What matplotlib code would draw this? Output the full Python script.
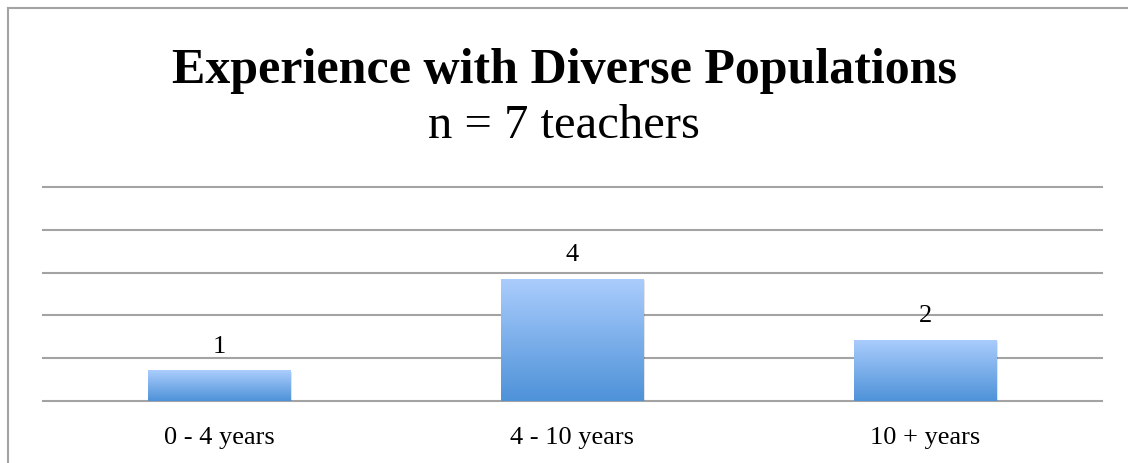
"""Experience with Diverse Populations bar chart"""

import numpy as np
import matplotlib.pyplot as plt
from matplotlib.lines import Line2D
from matplotlib.patches import Rectangle

categories = ["0 - 4 years", "4 - 10 years", "10 + years"]
teachers = [1, 4, 2]
y_max = 7
grid_step = 7 / 5

COLOR_TOP = "#abcdfd"
COLOR_BOTTOM = "#4e92d8"
COLOR_GRID = "#a3a3a3"

plt.rcParams["font.family"] = ["Liberation Serif", "DejaVu Serif"]

fig = plt.figure(figsize=(11.28, 4.63), dpi=100)
W, H = 1128, 463

# axes placed in pixel terms of the reference
ax = fig.add_axes([43 / W, 62 / H, (1102 - 43) / W, (401 - 187) / H])
ax.set_xlim(-0.5, len(categories) - 0.5)
ax.set_ylim(0, y_max)

for spine in ax.spines.values():
    spine.set_visible(False)
ax.tick_params(left=False, bottom=False, labelleft=False)
ax.set_yticks(np.arange(0, y_max + 0.01, grid_step))
ax.grid(axis="y", color=COLOR_GRID, linewidth=1.5)
for line in ax.get_ygridlines():
    line.set_clip_on(False)
ax.set_axisbelow(True)

ax.set_xticks(range(len(categories)))
ax.set_xticklabels(categories, fontsize=19)
ax.tick_params(axis="x", pad=15)

# vertical gradient used to fill each bar
gradient = np.linspace(0, 1, 256).reshape(-1, 1)
cmap = plt.matplotlib.colors.LinearSegmentedColormap.from_list(
    "bar", [COLOR_BOTTOM, COLOR_TOP]
)

bar_width = 0.405
for i, value in enumerate(teachers):
    x0 = i - bar_width / 2
    # soft shadow
    for k, alpha in enumerate([0.10, 0.07, 0.04]):
        d = 0.004 * (k + 1)
        shadow = Rectangle(
            (x0 + d * 0.3, -0.02 * (k + 1)),
            bar_width,
            value,
            color="black",
            alpha=alpha,
            linewidth=0,
            zorder=2,
        )
        ax.add_patch(shadow)
    rect = Rectangle((x0, 0), bar_width, value, facecolor="none",
                     edgecolor="none", zorder=3)
    ax.add_patch(rect)
    im = ax.imshow(
        gradient,
        extent=[x0, x0 + bar_width, 0, value],
        origin="lower",
        cmap=cmap,
        aspect="auto",
        zorder=3,
    )
    im.set_clip_path(rect)
    ax.annotate(
        str(value),
        (i, value),
        xytext=(0, 9),
        textcoords="offset points",
        ha="center",
        va="bottom",
        fontsize=19,
        zorder=4,
    )

ax.set_xlim(-0.5, len(categories) - 0.5)
ax.set_ylim(0, y_max)

# titles
fig.text(0.5, 1 - 83 / H, "Experience with Diverse Populations",
         ha="center", va="baseline", fontsize=36, fontweight="bold")
fig.text(0.5, 1 - 138 / H, "n = 7 teachers",
         ha="center", va="baseline", fontsize=35)

# outer chart frame (cut off at the right and bottom)
fig.add_artist(Line2D([8 / W, 8 / W], [0, 1 - 8 / H], color=COLOR_GRID,
                      linewidth=1.5))
fig.add_artist(Line2D([8 / W, 1], [1 - 8 / H, 1 - 8 / H], color=COLOR_GRID,
                      linewidth=1.5))

fig.savefig("out.png", dpi=100)
